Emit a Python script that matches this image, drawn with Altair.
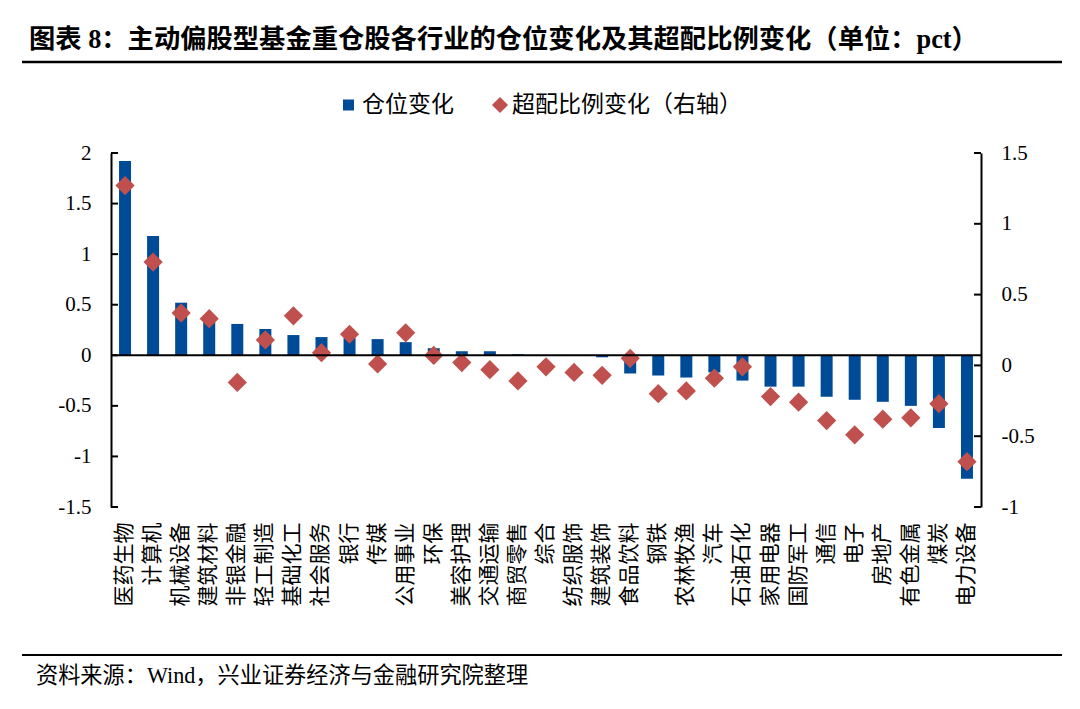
import altair as alt
import pandas as pd

categories = ["医药生物", "计算机", "机械设备", "建筑材料", "非银金融", "轻工制造", "基础化工",
              "社会服务", "银行", "传媒", "公用事业", "环保", "美容护理", "交通运输", "商贸零售",
              "综合", "纺织服饰", "建筑装饰", "食品饮料", "钢铁", "农林牧渔", "汽车", "石油石化",
              "家用电器", "国防军工", "通信", "电子", "房地产", "有色金属", "煤炭", "电力设备"]
position_change = [1.92, 1.18, 0.52, 0.35, 0.31, 0.26, 0.20, 0.18, 0.17, 0.16, 0.13, 0.07, 0.04,
                   0.04, 0.01, 0.00, 0.00, -0.02, -0.18, -0.20, -0.22, -0.17, -0.25, -0.31, -0.31,
                   -0.41, -0.44, -0.46, -0.50, -0.72, -1.22]
overweight_change = [1.27, 0.73, 0.37, 0.33, -0.12, 0.18, 0.35, 0.09, 0.22, 0.01, 0.23, 0.07, 0.02,
                     -0.03, -0.11, -0.01, -0.05, -0.07, 0.05, -0.20, -0.18, -0.09, -0.01, -0.22,
                     -0.26, -0.39, -0.49, -0.38, -0.37, -0.27, -0.68]
left_ticks = [-1.5, -1, -0.5, 0, 0.5, 1, 1.5, 2]
right_ticks = [-1, -0.5, 0, 0.5, 1, 1.5]
series_names = ["仓位变化", "超配比例变化（右轴）"]
title_text = "图表 8：主动偏股型基金重仓股各行业的仓位变化及其超配比例变化（单位：pct）"
source_text = "资料来源：Wind，兴业证券经济与金融研究院整理"

df = pd.DataFrame({"cat": categories, "pos": position_change, "ow": overweight_change})

W, H = 870, 354
BLUE = "#004B97"
RED = "#C0504D"
SERIF = "Liberation Serif, Noto Sans CJK SC"
CJK = "Noto Sans CJK SC"

x_axis = alt.X("cat:N", sort=categories, title=None,
               scale=alt.Scale(paddingInner=0, paddingOuter=0),
               axis=alt.Axis(labelAngle=-90, labelPadding=15, labelFont=CJK, labelFontSize=21,
                             labelOverlap=False, labelLimit=300, tickSize=0,
                             domainOpacity=0))

left_scale = alt.Scale(domain=[-1.5, 2], nice=False, zero=False)
right_scale = alt.Scale(domain=[-1, 1.5], nice=False, zero=False)

left_axis = alt.Axis(orient="left", values=left_ticks, tickSize=0, labelPadding=20,
                     labelFont="Liberation Serif", labelFontSize=21,
                     labelExpr="toString(datum.value)")
right_axis = alt.Axis(orient="right", values=right_ticks, tickSize=0, labelPadding=20,
                      labelFont="Liberation Serif", labelFontSize=21,
                      labelExpr="toString(datum.value)")

bars = alt.Chart(df).mark_bar(size=12, color=BLUE).encode(
    x=x_axis, y=alt.Y("pos:Q", scale=left_scale, axis=left_axis, title=None))
points = alt.Chart(df).mark_point(shape="diamond", filled=True, size=370, color=RED,
                                  opacity=1).encode(
    x=x_axis, y=alt.Y("ow:Q", scale=right_scale, axis=right_axis, title=None))

zero_line = alt.Chart(pd.DataFrame({"z": [0]})).mark_rule(color="black", strokeWidth=2).encode(
    y=alt.Y("z:Q", scale=left_scale, axis=None)
)
lticks = alt.Chart(pd.DataFrame({"t": left_ticks})).mark_rule(color="black", strokeWidth=2).encode(
    y=alt.Y("t:Q", scale=left_scale, axis=None), x=alt.value(0), x2=alt.value(7)
)
rticks = alt.Chart(pd.DataFrame({"t": right_ticks})).mark_rule(color="black", strokeWidth=2).encode(
    y=alt.Y("t:Q", scale=right_scale, axis=None), x=alt.value(W - 7), x2=alt.value(W)
)

title = alt.Chart(alt.Data(values=[{"t": title_text}])).mark_text(
    align="left", baseline="middle", font=SERIF, fontSize=26.3, fontWeight="bold", color="black"
).encode(x=alt.value(-82), y=alt.value(-113), text="t:N")
top_line = alt.Chart(alt.Data(values=[{"a": 1}])).mark_rule(color="black", strokeWidth=2.5).encode(
    x=alt.value(-89), x2=alt.value(951), y=alt.value(-91)
)
bottom_line = alt.Chart(alt.Data(values=[{"a": 1}])).mark_rule(color="black", strokeWidth=2).encode(
    x=alt.value(-89), x2=alt.value(951), y=alt.value(502)
)
source = alt.Chart(alt.Data(values=[{"t": source_text}])).mark_text(
    align="left", baseline="middle", font=SERIF, fontSize=22.2, color="black"
).encode(x=alt.value(-75), y=alt.value(523), text="t:N")

leg_sq = alt.Chart(alt.Data(values=[{"a": 1}])).mark_square(size=121, color=BLUE, opacity=1).encode(
    x=alt.value(237.5), y=alt.value(-48)
)
leg_sq_t = alt.Chart(alt.Data(values=[{"t": series_names[0]}])).mark_text(
    align="left", baseline="middle", font=CJK, fontSize=23, color="black"
).encode(x=alt.value(251), y=alt.value(-48), text="t:N")
leg_dm = alt.Chart(alt.Data(values=[{"a": 1}])).mark_point(
    shape="diamond", filled=True, size=260, color=RED, opacity=1
).encode(x=alt.value(389), y=alt.value(-48))
leg_dm_t = alt.Chart(alt.Data(values=[{"t": series_names[1]}])).mark_text(
    align="left", baseline="middle", font=CJK, fontSize=23, color="black"
).encode(x=alt.value(401), y=alt.value(-48), text="t:N")

chart = alt.layer(
    bars, points, zero_line, lticks, rticks,
    title, top_line, bottom_line, source, leg_sq, leg_sq_t, leg_dm, leg_dm_t
).resolve_scale(y="independent").properties(
    width=W, height=H,
    autosize=alt.AutoSizeParams(type="none"),
    padding={"left": 103, "top": 145, "right": 91, "bottom": 194},
    background="white",
).configure_view(strokeWidth=0).configure_axis(
    grid=False, domainColor="black", domainWidth=2, labelColor="black"
)

chart.save("out.html", embed_options={"renderer": "svg", "actions": False})
